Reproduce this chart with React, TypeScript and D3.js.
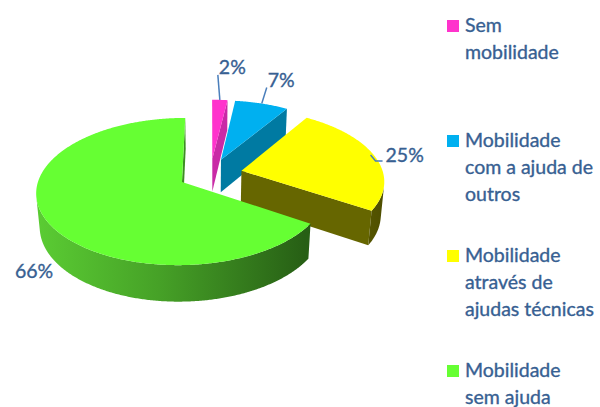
import React from "react";
import * as d3 from "d3";

// data
const categories = [
  "Sem mobilidade",
  "Mobilidade com a ajuda de outros",
  "Mobilidade através de ajudas técnicas",
  "Mobilidade sem ajuda",
];
const legendLines = [
  ["Sem", "mobilidade"],
  ["Mobilidade", "com a ajuda de", "outros"],
  ["Mobilidade", "através de", "ajudas técnicas"],
  ["Mobilidade", "sem ajuda"],
];
const values = [2, 7, 25, 66];
const percentLabels = ["2%", "7%", "25%", "66%"];

// styles
const topColors = ["#FF33CC", "#00B0F0", "#FFFF00", "#66FF33"];
const faceColors = ["#C92AA6", "#007AA2", "#666600", "#3C8E22"];
const TEXT = "#376092";
const LEADER = "#4A7EBB";
const FONT = "Lato, 'Open Sans', sans-serif";
const FONT_SIZE = 19.5;

// 3d layout
const W = 600;
const H = 407;
const CX = 210.4;
const CY = 174.2;
const R = 142;
const ELEV = (29.7 * Math.PI) / 180;
const DIST = 960;
const DEPTH = 39;
const EXPLODE = 32;
const STEP = Math.PI / 360;
const sinE = Math.sin(ELEV);
const cosE = Math.cos(ELEV);
const cam = { x: 0, y: DIST * sinE, z: DIST * cosE };

// label placement relative to slice outer point: [dx, dy, leader kind]
const labelNudge: [number, number, string][] = [
  [-1, -26, "up"],
  [6, -17, "up"],
  [11, 6, "elbow"],
  [-34, 24, "none"],
];

type Pt = [number, number];

function project(x: number, z: number, y: number): Pt {
  const up = y * cosE - z * sinE;
  const depth = z * cosE + y * sinE;
  const f = DIST / (DIST - depth);
  return [CX + x * f, CY - up * f];
}

const line = d3.line<Pt>();
const poly = (pts: Pt[]) => line(pts) + "Z";

export default function App() {
  const arcs = d3
    .pie<number>()
    .sort(null)
    .value((d) => d)(values);

  const slices = arcs.map((a, i) => {
    const mid = (a.startAngle + a.endAngle) / 2;
    const ox = EXPLODE * Math.sin(mid);
    const oz = -EXPLODE * Math.cos(mid);
    const P = (th: number, r: number, y: number) =>
      project(ox + r * Math.sin(th), oz - r * Math.cos(th), y);
    const thetas = d3.range(a.startAngle, a.endAngle, STEP).concat([a.endAngle]);

    // cut faces
    const faces: string[] = [];
    [
      [a.startAngle, -1],
      [a.endAngle, 1],
    ].forEach(([th, sgn]) => {
      const nx = sgn * Math.cos(th);
      const nz = sgn * Math.sin(th);
      const px = ox + (R / 2) * Math.sin(th);
      const pz = oz - (R / 2) * Math.cos(th);
      const dot = nx * (cam.x - px) + nz * (cam.z - pz);
      if (dot > 0) {
        faces.push(poly([P(0, 0, 0), P(th, R, 0), P(th, R, -DEPTH), P(0, 0, -DEPTH)]));
      }
    });

    // outer wall, only parts facing the viewer
    const walls: string[] = [];
    let run: number[] = [];
    const flush = () => {
      if (run.length > 1) {
        const topPts = run.map((t) => P(t, R, 0));
        const botPts = run.map((t) => P(t, R, -DEPTH)).reverse();
        walls.push(poly([...topPts, ...botPts]));
      }
      run = [];
    };
    thetas.forEach((t) => {
      const nx = Math.sin(t);
      const nz = -Math.cos(t);
      const px = ox + R * nx;
      const pz = oz + R * nz;
      const dot = nx * (cam.x - px) + nz * (cam.z - pz);
      if (dot > 0) run.push(t);
      else flush();
    });
    flush();

    const top = poly([P(0, 0, 0), ...thetas.map((t) => P(t, R, 0))]);
    const outerTop = P(mid, R, 0);
    const outerBot = P(mid, R, -DEPTH);
    return { i, faces, walls, top, outerTop, outerBot };
  });

  const legendY = d3.scaleLinear().domain([0, 1]).range([32, 147]);

  const textProps = {
    fontSize: FONT_SIZE,
    fill: TEXT,
    stroke: TEXT,
    strokeWidth: 0.35,
  };

  return (
    <svg
      width={W}
      height={H}
      style={{ position: "absolute", left: 0, top: 0, background: "#fff" }}
      fontFamily={FONT}
    >
      <defs>
        <linearGradient id="greenWall" gradientUnits="userSpaceOnUse" x1={40} x2={305} y1={0} y2={0}>
          <stop offset="0%" stopColor="#5ACB33" />
          <stop offset="45%" stopColor="#46A127" />
          <stop offset="100%" stopColor="#275F15" />
        </linearGradient>
        <linearGradient id="oliveWall" gradientUnits="userSpaceOnUse" x1={330} x2={382} y1={0} y2={0}>
          <stop offset="0%" stopColor="#666600" />
          <stop offset="100%" stopColor="#4F4F00" />
        </linearGradient>
      </defs>

      {slices.map((s) => (
        <g key={categories[s.i]}>
          {s.faces.map((d, k) => (
            <path key={"f" + k} d={d} fill={faceColors[s.i]} />
          ))}
          {s.walls.map((d, k) => (
            <path
              key={"w" + k}
              d={d}
              fill={s.i === 3 ? "url(#greenWall)" : s.i === 2 ? "url(#oliveWall)" : faceColors[s.i]}
            />
          ))}
          <path d={s.top} fill={topColors[s.i]} />
        </g>
      ))}

      {slices.map((s) => {
        const [dx, dy, kind] = labelNudge[s.i];
        const base = kind === "none" ? s.outerBot : s.outerTop;
        const lx = base[0] + dx;
        const ly = base[1] + dy;
        let leader: Pt[] = [];
        if (kind === "up") leader = [s.outerTop, [lx - 1, ly + 1]];
        if (kind === "elbow")
          leader = [
            [s.outerTop[0] - 4, s.outerTop[1] - 1],
            [s.outerTop[0] + 1, ly - 1],
            [lx - 3, ly - 1],
          ];
        return (
          <g key={"l" + s.i}>
            {leader.length > 0 && (
              <path d={line(leader) ?? ""} fill="none" stroke={LEADER} strokeWidth={1.5} />
            )}
            <text x={lx} y={ly} {...textProps}>
              {percentLabels[s.i]}
            </text>
          </g>
        );
      })}

      {legendLines.map((lines, i) => {
        const y0 = legendY(i);
        return (
          <g key={"lg" + i}>
            <rect x={447} y={y0 - 12} width={12} height={12} fill={topColors[i]} />
            {lines.map((t, k) => (
              <text key={k} x={465} y={y0 + k * 27} {...textProps}>
                {t}
              </text>
            ))}
          </g>
        );
      })}
    </svg>
  );
}
